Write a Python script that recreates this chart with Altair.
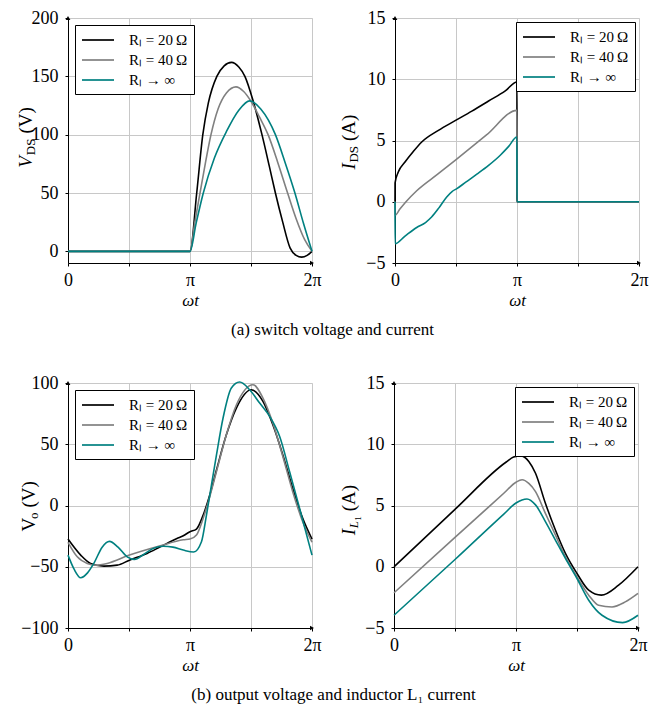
import altair as alt
import pandas as pd

FONT = "Liberation Serif"
SERIES = ["R\u2097 = 20\u2009\u03a9", "R\u2097 = 40\u2009\u03a9", "\u00a0\u00a0R\u2097 \u2192 \u221e"]
COLORS = ["#000000", "#808080", "#008080"]

# ---------- (a) switch voltage V_DS (V), x in units of pi ----------
vds_t_20 = [0, 1.00, 1.055, 1.105, 1.15, 1.22, 1.28, 1.34, 1.40, 1.45, 1.52, 1.59, 1.65, 1.70, 1.76, 1.82, 1.87, 1.915, 1.96, 2.00]
vds_v_20 = [0, 0, 50, 100, 127, 150, 159, 162, 158, 150, 128, 100, 73, 50, 25, 3, -3.5, -5, -3.5, 0]
vds_t_40 = [0, 1.00, 1.04, 1.082, 1.125, 1.172, 1.23, 1.30, 1.377, 1.44, 1.506, 1.57, 1.64, 1.72, 1.80, 1.87, 1.94, 2.00]
vds_v_40 = [0, 0, 25, 50, 75, 100, 122, 136, 141, 137, 127.6, 115, 100, 76, 50, 28, 10, 0]
vds_t_inf = [0, 1.00, 1.05, 1.109, 1.20, 1.30, 1.40, 1.49, 1.58, 1.70, 1.78, 1.86, 1.93, 2.00]
vds_v_inf = [0, 0, 24, 50, 80, 103, 121, 129, 122, 100, 76, 50, 24, 0]

# ---------- (a) switch current I_DS (A) ----------
ids_t_20 = [0, 0.0005, 0.027, 0.082, 0.15, 0.219, 0.356, 0.493, 0.63, 0.767, 0.904, 0.9995, 1.0, 2.0]
ids_i_20 = [0, 1.55, 2.43, 3.24, 4.1, 4.88, 5.83, 6.62, 7.4, 8.22, 9.05, 9.78, 0, 0]
ids_t_40 = [0, 0.0005, 0.04, 0.09, 0.178, 0.35, 0.493, 0.75, 0.9995, 1.0, 2.0]
ids_i_40 = [0, -1.1, -0.6, 0, 0.9, 2.25, 3.38, 5.45, 7.46, 0, 0]
ids_t_inf = [0, 0.0005, 0.082, 0.178, 0.25, 0.30, 0.36, 0.424, 0.47, 0.507, 0.58, 0.671, 0.767, 0.863, 0.93, 0.9995, 1.0, 2.0]
ids_i_inf = [0, -3.42, -2.8, -2.1, -1.7, -1.25, -0.5, 0.39, 0.85, 1.07, 1.6, 2.25, 2.97, 3.8, 4.5, 5.29, 0, 0]

# ---------- (b) output voltage V_o (V) ----------
vo_t_20 = [0, 0.104, 0.185, 0.294, 0.403, 0.504, 0.648, 0.757, 0.893, 0.945, 1.0, 1.053, 1.108, 1.162, 1.217, 1.298, 1.380, 1.502, 1.598, 1.679, 1.761, 1.842, 1.924, 2.0]
vo_v_20 = [-27.4, -40.5, -47.3, -49.5, -48.7, -44.6, -39.1, -33.7, -27, -24.7, -21.4, -19.2, -7.8, 8.6, 29, 57.7, 79.5, 94.5, 85, 65.9, 41.3, 14, -10.5, -27.4]
vo_t_40 = [0, 0.076, 0.158, 0.226, 0.321, 0.504, 0.757, 0.945, 1.0, 1.053, 1.108, 1.162, 1.217, 1.298, 1.380, 1.516, 1.598, 1.679, 1.761, 1.842, 1.924, 2.0]
vo_v_40 = [-30, -41.9, -47.3, -48.7, -47.3, -40.5, -32.9, -28, -27.4, -24.1, -10.5, 7.2, 27.7, 57.7, 82, 98.6, 87.7, 67.3, 40, 11.3, -13.3, -30]
vo_t_inf = [0, 0.05, 0.104, 0.16, 0.213, 0.28, 0.34, 0.41, 0.485, 0.545, 0.62, 0.70, 0.78, 0.86, 0.945, 1.03, 1.094, 1.135, 1.176, 1.217, 1.271, 1.339, 1.407, 1.489, 1.571, 1.653, 1.735, 1.816, 1.898, 2.0]
vo_v_inf = [-40.5, -52, -59, -55, -47, -34, -29.3, -34, -41.9, -44, -40, -35, -33.3, -34, -36.4, -38, -29.6, -7.8, 16.8, 41.3, 71.4, 95.9, 100.8, 94.5, 83.6, 72.7, 56.3, 27.7, -2.3, -40.5]

# ---------- (b) inductor current I_L1 (A) ----------
il_t_20 = [0, 0.5, 0.92, 0.98, 1.037, 1.105, 1.160, 1.241, 1.323, 1.405, 1.50, 1.596, 1.70, 1.841, 2.0]
il_i_20 = [0, 4.69, 8.55, 8.95, 9.05, 8.6, 7.63, 5.18, 3.0, 1.09, -0.55, -1.91, -2.32, -1.5, 0]
il_t_40 = [0, 0.5, 0.9, 1.0, 1.05, 1.105, 1.16, 1.241, 1.323, 1.405, 1.50, 1.596, 1.677, 1.787, 1.896, 2.0]
il_i_40 = [-2.13, 2.4, 6.0, 6.9, 7.1, 6.8, 6.13, 4.36, 2.6, 0.82, -0.82, -2.32, -3.14, -3.28, -2.87, -2.18]
il_t_inf = [0, 0.5, 0.9, 1.0, 1.09, 1.16, 1.241, 1.323, 1.405, 1.50, 1.596, 1.705, 1.874, 2.0]
il_i_inf = [-3.96, 0.59, 4.3, 5.2, 5.53, 5.05, 3.68, 2.18, 0.68, -0.96, -2.73, -3.96, -4.56, -3.96]

X_TICKS = [0, 0.5, 1, 1.5, 2]

# approximate advance widths (em) for building sub-scripted axis titles
ADV = {"V": 0.66, "I": 0.36, "L": 0.58, "D": 0.722, "S": 0.556, "o": 0.5,
       "1": 0.5, "(": 0.333, ")": 0.333, "A": 0.722}


def frame(ts, ys):
    rows = []
    for name, t, y in zip(SERIES, ts, ys):
        for a, b in zip(t, y):
            rows.append({"t": a, "y": b, "series": name})
    return pd.DataFrame(rows)


def title_layers(pieces, xb, yc):
    # pieces: (text, size, italic, baseline shift, gap before)
    widths = [gap + sum(ADV.get(c, 0.5) for c in txt) * fs for txt, fs, it, sh, gap in pieces]
    y = yc + sum(widths) / 2
    out = []
    for (txt, fs, it, sh, gap), w in zip(pieces, widths):
        y -= gap
        out.append(
            alt.Chart(pd.DataFrame({"k": [0]}))
            .mark_text(text=txt, angle=270, align="left", baseline="alphabetic",
                       font=FONT, fontSize=fs, fontStyle="italic" if it else "normal",
                       color="black")
            .encode(x=alt.value(xb + sh), y=alt.value(y))
        )
        y -= (w - gap)
    return out


def panel(ts, ys, ydom, yvals, major, orient, offset, pieces, xb, yc):
    df = frame(ts, ys)
    grid_test = f"abs(datum.value % {major}) < 1e-6"
    label_expr = (f"{grid_test} ? (datum.value < 0 ? '\u2212' + abs(datum.value) : '' + datum.value) : ''")
    xaxis = alt.Axis(values=X_TICKS, title="\u03c9t",
                     labelExpr="datum.value == 0 ? '0' : datum.value == 1 ? '\u03c0' : datum.value == 2 ? '2\u03c0' : ''",
                     labelFont=FONT, labelFontSize=18, titleFont=FONT, titleFontSize=17,
                     titleFontStyle="italic", titleFontWeight="normal", titlePadding=3,
                     labelPadding=5, tickSize=3, tickColor="black", domainColor="black",
                     gridColor="#c8c8c8", labelColor="black", titleColor="black",
                     labelOverlap=False, labelFlush=False)
    yaxis = alt.Axis(values=yvals, title=None, labelExpr=label_expr,
                     labelFont=FONT, labelFontSize=18, labelPadding=7, tickSize=3,
                     tickColor="black", domainColor="black", gridColor="#c8c8c8",
                     gridOpacity={"condition": {"test": grid_test, "value": 1}, "value": 0},
                     labelColor="black", labelOverlap=False, labelFlush=False)
    legend = alt.Legend(title=None, orient=orient, offset=offset, fillColor="white",
                        strokeColor="black", padding=6, labelFont=FONT,
                        labelFontSize=15, labelColor="black", symbolType="M-2,0H2",
                        symbolStrokeWidth=1.7, symbolSize=256, symbolOffset=8,
                        rowPadding=3, labelOffset=22, cornerRadius=0)
    lines = alt.Chart(df).mark_line(strokeWidth=1.6, interpolate="monotone").encode(
        x=alt.X("t:Q", scale=alt.Scale(domain=[0, 2], nice=False), axis=xaxis),
        y=alt.Y("y:Q", scale=alt.Scale(domain=ydom, nice=False, zero=False), axis=yaxis),
        color=alt.Color("series:N", scale=alt.Scale(domain=SERIES, range=COLORS), legend=legend),
    )
    arrows = alt.Chart(pd.DataFrame({"t": [0, 2], "y": [ydom[1], ydom[0]],
                                     "s": ["triangle-up", "triangle-right"]})).mark_point(
        filled=True, size=22, color="black", opacity=1).encode(
        x="t:Q", y="y:Q", shape=alt.Shape("s:N", scale=None))
    return alt.layer(lines, arrows, *title_layers(pieces, xb, yc)).properties(width=244, height=245)


p1 = panel([vds_t_20, vds_t_40, vds_t_inf], [vds_v_20, vds_v_40, vds_v_inf], [-10, 200],
           list(range(0, 201, 25)), 50, "top-left", 7,
           [("V", 19, True, 0, 0), ("DS", 13, False, 3, 0), ("(V)", 19, False, 0, 5)], -36, 120)
p2 = panel([ids_t_20, ids_t_40, ids_t_inf], [ids_i_20, ids_i_40, ids_i_inf], [-5, 15],
           [-5, -2.5, 0, 2.5, 5, 7.5, 10, 12.5, 15], 5, "top-right", 4,
           [("I", 19, True, 0, 0), ("DS", 13, False, 3, 0), ("(A)", 19, False, 0, 5)], -40, 124)
p3 = panel([vo_t_20, vo_t_40, vo_t_inf], [vo_v_20, vo_v_40, vo_v_inf], [-100, 100],
           list(range(-100, 101, 25)), 50, "top-left", 7,
           [("V", 19, False, 0, 0), ("o", 13, False, 3, 0), ("(V)", 19, False, 0, 5)], -33, 124)
p4 = panel([il_t_20, il_t_40, il_t_inf], [il_i_20, il_i_40, il_i_inf], [-5, 15],
           [-5, -2.5, 0, 2.5, 5, 7.5, 10, 12.5, 15], 5, "top-right", 4,
           [("I", 19, True, 0, 0), ("L", 13, True, 3, 0), ("1", 9, False, 6, 0), ("(A)", 19, False, 0, 5)], -39, 127)

cap = dict(orient="bottom", anchor="middle", font=FONT, fontSize=17, fontWeight="normal",
           color="black", offset=13)
row1 = alt.hconcat(p1, p2, spacing=17,
                   title=alt.Title("(a) switch voltage and current", **cap)
                   ).resolve_scale(color="independent", shape="independent")
row2 = alt.hconcat(p3, p4, spacing=17,
                   title=alt.Title("(b) output voltage and inductor L\u2081 current", **cap)
                   ).resolve_scale(color="independent", shape="independent")

chart = alt.vconcat(row1, row2, spacing=35).resolve_scale(
    color="independent", shape="independent").properties(
    padding={"left": 8, "top": 0, "right": 5, "bottom": 5}
).configure_view(stroke=None).configure(font=FONT)

chart.save("out.html", embed_options={"renderer": "svg", "actions": False})
